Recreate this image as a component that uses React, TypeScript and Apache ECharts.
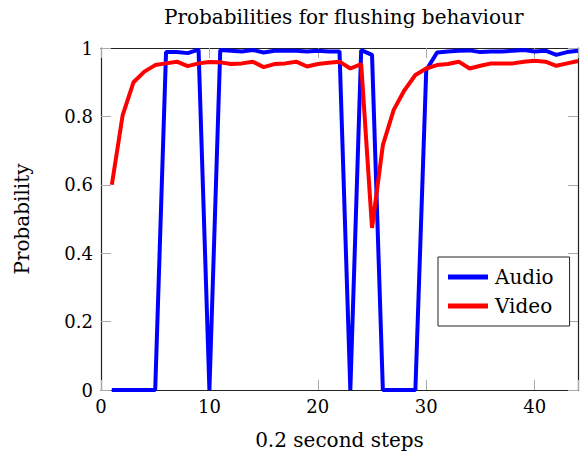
import React, { useEffect, useRef } from "react";
import * as echarts from "echarts";

const steps = [1,2,3,4,5,6,7,8,9,10,11,12,13,14,15,16,17,18,19,20,21,22,23,24,25,26,27,28,29,30,31,32,33,34,35,36,37,38,39,40,41,42,43,44];
const audio = [0,0,0,0,0,0.988,0.988,0.985,0.995,0,0.994,0.992,0.99,0.994,0.987,0.992,0.992,0.992,0.99,0.992,0.99,0.99,0,0.994,0.98,0,0,0,0,0.935,0.987,0.99,0.992,0.993,0.988,0.99,0.99,0.992,0.994,0.99,0.992,0.98,0.988,0.992];
const video = [0.6,0.804,0.9,0.931,0.95,0.955,0.96,0.947,0.955,0.959,0.958,0.953,0.955,0.96,0.944,0.953,0.955,0.96,0.946,0.953,0.957,0.96,0.94,0.953,0.474,0.716,0.819,0.877,0.921,0.94,0.95,0.953,0.96,0.94,0.948,0.955,0.955,0.955,0.96,0.963,0.96,0.948,0.955,0.962];
const xTicks = [0, 10, 20, 30, 40];
const yTicks = [0, 0.2, 0.4, 0.6, 0.8, 1];

const FONT = "DejaVu Serif";
const FS = 18;
const FN = 20;

export default function App() {
  const ref = useRef<HTMLDivElement>(null);
  useEffect(() => {
    const chart = echarts.init(ref.current!, null, { renderer: "svg" });
    const tick = { show: true, inside: true, length: 10, lineStyle: { color: "#aaaaaa", width: 1 } };
    const line = { show: true, onZero: false, lineStyle: { color: "#222", width: 1.2 } };
    chart.setOption({
      animation: false,
      title: {
        text: "Probabilities for flushing behaviour",
        left: 159,
        top: 2,
        textStyle: { fontFamily: FONT, fontSize: FN, fontWeight: "normal", color: "#000" },
      },
      legend: {
        orient: "vertical",
        left: 438,
        top: 257,
        padding: [10, 16, 10, 10],
        itemGap: 9,
        itemWidth: 40,
        itemHeight: 5,
        icon: "rect",
        borderColor: "#222",
        borderWidth: 1,
        backgroundColor: "#fff",
        textStyle: { fontFamily: FONT, fontSize: FN, color: "#000", padding: [0, 0, 0, 2] },
        data: ["Audio", "Video"],
      },
      grid: { left: 101, right: 2, top: 48, bottom: 68, containLabel: false },
      xAxis: [
        {
          type: "value", min: 0, max: 44, interval: 10,
          name: "0.2 second steps", nameLocation: "middle", nameGap: 40,
          nameTextStyle: { fontFamily: FONT, fontSize: FN, color: "#000" },
          axisLine: line, axisTick: tick, splitLine: { show: false },
          axisLabel: { fontFamily: FONT, fontSize: FS, color: "#000", margin: 7, customValues: xTicks },
        },
        {
          type: "value", min: 0, max: 44, interval: 10, position: "top",
          axisLine: line, axisTick: tick, splitLine: { show: false }, axisLabel: { show: false },
        },
      ],
      yAxis: [
        {
          type: "value", min: 0, max: 1, interval: 0.2,
          name: "Probability", nameLocation: "middle", nameGap: 69, nameRotate: 90,
          nameTextStyle: { fontFamily: FONT, fontSize: FN, color: "#000" },
          axisLine: line, axisTick: tick, splitLine: { show: false },
          axisLabel: { fontFamily: FONT, fontSize: FS, color: "#000", margin: 8, formatter: (v: number) => String(+v.toFixed(1)) },
        },
        {
          type: "value", min: 0, max: 1, interval: 0.2, position: "right",
          axisLine: line, axisTick: tick, splitLine: { show: false }, axisLabel: { show: false },
        },
      ],
      series: [
        {
          name: "Audio", type: "line", showSymbol: false, symbol: "none",
          data: steps.map((s, i) => [s, audio[i]]),
          lineStyle: { color: "#0000ff", width: 4 }, itemStyle: { color: "#0000ff" },
        },
        {
          name: "Video", type: "line", showSymbol: false, symbol: "none",
          data: steps.map((s, i) => [s, video[i]]),
          lineStyle: { color: "#ff0000", width: 4 }, itemStyle: { color: "#ff0000" },
        },
      ],
    });
    return () => chart.dispose();
  }, []);
  return <div ref={ref} style={{ width: 580, height: 458, position: "absolute", left: 0, top: 0 }} />;
}
